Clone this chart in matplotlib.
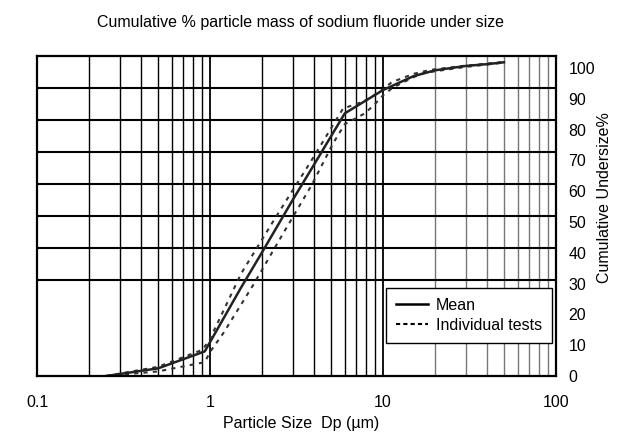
import matplotlib
matplotlib.use("Agg")
import matplotlib.pyplot as plt
from matplotlib.lines import Line2D
from matplotlib.ticker import FixedLocator, NullLocator, NullFormatter

plt.rcParams['font.family'] = ['Liberation Sans', 'DejaVu Sans']

# particle size (um) and cumulative undersize (%)
mean_size = [0.25, 0.5, 0.93, 1.5, 2, 3, 4, 6, 10, 15, 20, 30, 40, 50]
mean_pct = [0, 2.5, 8, 28.5, 40.3, 57.2, 68.8, 85.3, 92.9, 97.4, 99.3, 100.7, 101.3, 101.9]

testA_size = [0.25, 0.5, 0.9, 0.99, 1.51, 2.37, 3.86, 5.87, 7.66, 9.57, 11.2, 14.9, 18.6, 30, 50]
testA_pct = [0, 3, 8.5, 11.7, 33.3, 51.2, 70.1, 86.9, 89.1, 92.3, 95.4, 98.1, 99.4, 100.8, 102]

testB_size = [0.25, 0.5, 0.93, 1.0, 1.19, 1.77, 2.64, 3.86, 5.14, 6.0, 7.84, 8.96, 10, 11.4, 14.9, 17, 20, 30, 50]
testB_pct = [0, 1.5, 4.5, 7.9, 13.9, 29.5, 46.3, 62, 75.6, 81.8, 85.3, 88.3, 91.2, 93.7, 97, 98.3, 99, 100.4, 101.8]

x_ticks = [0.1, 1, 10, 100]
x_labels = ['0.1', '1', '10', '100']
y_ticks = [0, 10, 20, 30, 40, 50, 60, 70, 80, 90, 100]
y_top = 104.1

fig = plt.figure(figsize=(6.36, 4.33), dpi=100)
ax = fig.add_axes([0.0587, 0.1316, 0.8155, 0.7402])

# log grid (vertical)
for dec in [0.1, 1, 10]:
    for m in range(1, 10):
        v = dec * m
        if v <= 0.1:
            continue
        col = '#777777' if v > 15 else 'black'
        ax.axvline(v, color=col, lw=1.0 if m > 1 else 1.3, zorder=1)
# horizontal grid lines (drawn on the frame scale, not the label scale)
for k in range(3, 10):
    ax.axhline(y_top * k / 10, color='black', lw=1.5, zorder=1)

ax.plot(testA_size, testA_pct, color='#333333', lw=1.5, ls=(0, (2, 2.5)), zorder=3)
ax.plot(testB_size, testB_pct, color='#333333', lw=1.5, ls=(0, (2, 2.5)), zorder=3)
ax.plot(mean_size, mean_pct, color='#222222', lw=1.8, zorder=4)

ax.set_xscale('log')
ax.set_xlim(0.1, 100)
ax.set_ylim(0, y_top)
ax.xaxis.set_major_locator(FixedLocator(x_ticks))
ax.set_xticklabels(x_labels)
ax.xaxis.set_minor_locator(NullLocator())
ax.xaxis.set_minor_formatter(NullFormatter())
ax.yaxis.tick_right()
ax.set_yticks(y_ticks)
ax.tick_params(axis='both', length=0, labelsize=11.5)
ax.tick_params(axis='x', pad=14)
ax.tick_params(axis='y', pad=9)
for s in ax.spines.values():
    s.set_linewidth(1.6)
    s.set_zorder(5)

handles = [Line2D([], [], color='black', lw=1.8),
           Line2D([], [], color='black', lw=1.5, ls=(0, (2, 1.5)))]
leg = ax.legend(handles, ['Mean', 'Individual tests'], loc='lower right',
                bbox_to_anchor=(0.992, 0.104), fontsize=11.5, fancybox=False,
                framealpha=1, edgecolor='black', borderpad=0.62, handlelength=2.0,
                handletextpad=0.5, labelspacing=0.3, borderaxespad=0)
leg.get_frame().set_linewidth(1.0)
leg.set_zorder(6)

fig.text(0.473, 0.947, 'Cumulative % particle mass of sodium fluoride under size',
         ha='center', va='center', fontsize=11.5)
fig.text(0.473, 0.021, 'Particle Size  Dp (\u00b5m)', ha='center', va='center', fontsize=11.5)
fig.text(0.95, 0.544, 'Cumulative Undersize%', ha='center', va='center',
         rotation=90, fontsize=11.5)

fig.savefig('out.png', dpi=100)
